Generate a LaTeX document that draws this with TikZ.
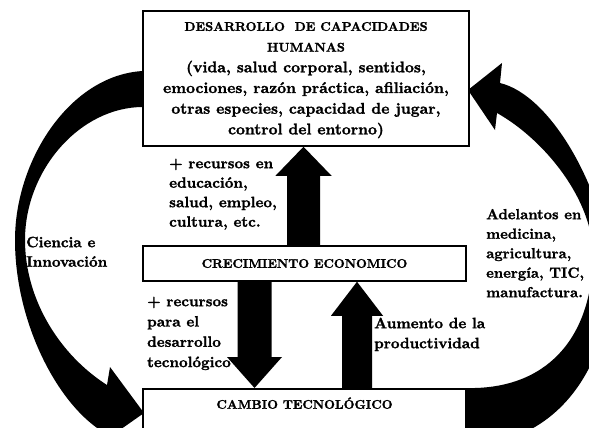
\documentclass[tikz,border=0pt]{standalone}
\usepackage{fontspec}
\setmainfont{lmroman10-regular.otf}[BoldFont=lmroman10-bold.otf, BoldFeatures={FakeBold=1.5}]
\usetikzlibrary{calc}
\pgfdeclarelayer{bgzero}
\pgfdeclarelayer{bgone}
\pgfsetlayers{bgzero,bgone,main}
\begin{document}
\begin{tikzpicture}[x=1pt,y=-1pt,
  box/.style={draw=black, line width=1.5pt, fill=white, inner sep=0pt, align=center},
  lbl/.style={anchor=north west, inner sep=0pt, align=left, font=\bfseries\fontsize{15}{19.5}\selectfont},
  band/.style={fill=black},
  blockarrow/.style={fill=black}]
\useasboundingbox (0,0) rectangle (589,428);
\clip (0,0) rectangle (589,428);

% boxes
\node[box, minimum width=326pt, minimum height=135pt,
      font=\bfseries\fontsize{15.5}{20.7}\selectfont] (top) at (306,78.5)
  {\fontsize{12.65}{20.7}\selectfont\strut DESARROLLO\ \ DE CAPACIDADES\\
   \fontsize{12.65}{20.7}\selectfont HUMANAS\\
   \fontsize{15.5}{20.7}\selectfont (vida, salud corporal, sentidos,\\
   emociones, razón práctica, afiliación,\\
   otras especies, capacidad de jugar,\\
   control del entorno)\strut};
\node[box, minimum width=323pt, minimum height=35pt,
      font=\bfseries\fontsize{12.55}{14}\selectfont] (mid) at (304.5,263.5)
  {CRECIMIENTO ECONOMICO};
\node[box, anchor=north, minimum width=323pt, text height=8.6pt, text depth=15pt,
      inner ysep=11.4pt, font=\bfseries\fontsize{12.55}{14}\selectfont] (bot) at (304.5,388)
  {CAMBIO TECNOLÓGICO};

% labels
\node[lbl] (lblEdu) at (169,154.35)
  {\strut + recursos en\\educación,\\salud, empleo,\\cultura, etc.};
\node[lbl] (lblCiencia) at (26,233.35)
  {\strut Ciencia e\\Innovación};
\node[lbl, font=\bfseries\fontsize{14.6}{19.5}\selectfont] (lblAdel) at (486,205.35)
  {\strut Adelantos en\\medicina,\\agricultura,\\energía,\ TIC,\\manufactura.};
\node[lbl, font=\bfseries\fontsize{15}{20.3}\selectfont] (lblTec) at (147,291.8)
  {\strut + recursos\\para el\\desarrollo\\tecnológico};
\node[lbl, font=\bfseries\fontsize{15}{20}\selectfont] (lblProd) at (374,314)
  {\strut Aumento de la\\productividad};

% helper coordinates for the block arrows
\coordinate (a1) at (303.5,0);
\coordinate (a1s) at (a1 |- mid.north);
\coordinate (a1e) at (a1 |- top.south);
\coordinate (a2) at (254.5,0);
\coordinate (a2s) at (a2 |- mid.south);
\coordinate (a2e) at (a2 |- bot.north);
\coordinate (a3) at (357,0);
\coordinate (a3s) at (a3 |- bot.north);
\coordinate (a3e) at (a3 |- mid.south);

\begin{pgfonlayer}{bgzero}
\fill[white] (0,0) rectangle (589,428);
\end{pgfonlayer}

\begin{pgfonlayer}{bgone}
% crecimiento -> capacidades
\fill[blockarrow] ([xshift=-16.5pt]a1s) -- ([xshift=-16.5pt,yshift=-29pt]a1e)
  -- ([xshift=-28pt,yshift=-29pt]a1e) -- (a1e) -- ([xshift=28pt,yshift=-29pt]a1e)
  -- ([xshift=16.5pt,yshift=-29pt]a1e) -- ([xshift=16.5pt]a1s) -- cycle;
% crecimiento -> cambio
\fill[blockarrow] ([xshift=-17pt]a2s) -- ([xshift=-17pt,yshift=31pt]a2e)
  -- ([xshift=-27.5pt,yshift=31pt]a2e) -- (a2e) -- ([xshift=27.5pt,yshift=31pt]a2e)
  -- ([xshift=17pt,yshift=31pt]a2e) -- ([xshift=17pt]a2s) -- cycle;
% cambio -> crecimiento
\fill[blockarrow] ([xshift=-15pt]a3s) -- ([xshift=-15pt,yshift=-34pt]a3e)
  -- ([xshift=-26pt,yshift=-34pt]a3e) -- (a3e) -- ([xshift=26pt,yshift=-34pt]a3e)
  -- ([xshift=15pt,yshift=-34pt]a3e) -- ([xshift=15pt]a3s) -- cycle;

% left curved arrow: capacidades -> cambio
\fill[band] (143,71) .. controls (70,75) and (15,160) .. (15,240)
  .. controls (15,320) and (55,400) .. (100,430)
  -- (97,446) -- (144,413) -- (110,367) -- (107,385)
  .. controls (60,355) and (25,300) .. (25,240)
  .. controls (25,170) and (80,107) .. (143,107) -- cycle;

% right curved arrow: cambio -> capacidades
\fill[band] (466,388) .. controls (545,390) and (592,340) .. (593,255)
  .. controls (593,200) and (545,140) .. (497,113)
  -- (495,130) -- (468,90) -- (502,63) -- (500,83)
  .. controls (550,95) and (602,185) .. (612,270)
  .. controls (610,370) and (555,445) .. (466,445) -- cycle;
\end{pgfonlayer}
\end{tikzpicture}
\end{document}
